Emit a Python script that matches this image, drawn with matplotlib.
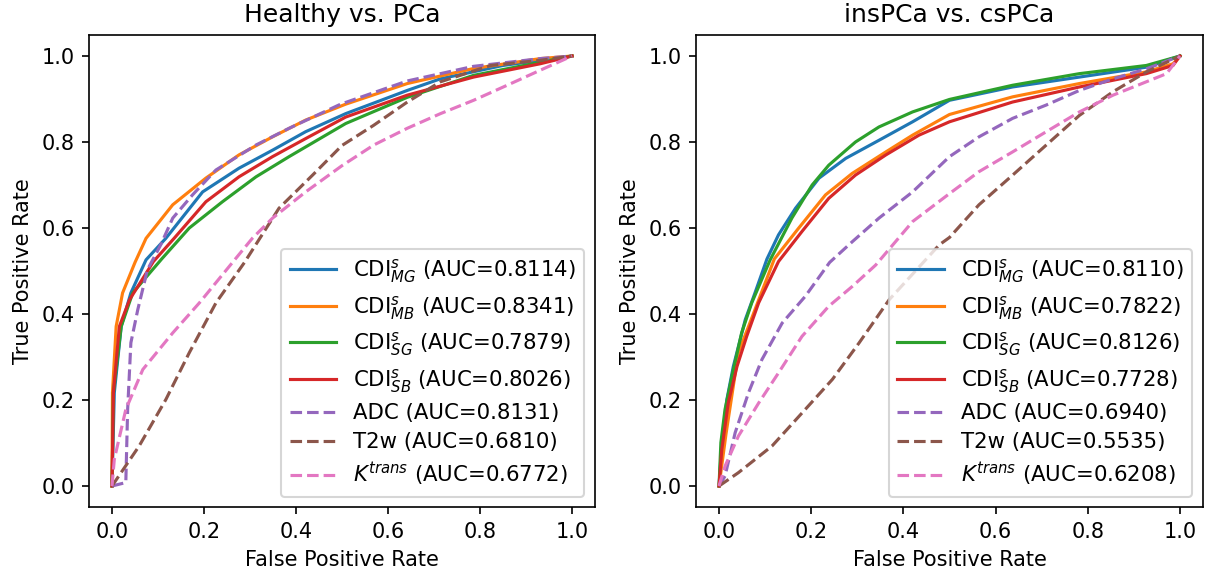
import numpy as np
import matplotlib
matplotlib.use('Agg')
import matplotlib.pyplot as plt

# ---- Healthy vs. PCa ----
h_mg_fpr = [0, 0.005, 0.020, 0.041, 0.074, 0.117, 0.197, 0.276, 0.349, 0.421, 0.508, 0.642, 0.714, 0.850, 1.0]
h_mg_tpr = [0, 0.217, 0.371, 0.449, 0.526, 0.576, 0.684, 0.739, 0.781, 0.824, 0.866, 0.920, 0.947, 0.978, 1.0]
h_mb_fpr = [0, 0.001, 0.009, 0.023, 0.050, 0.074, 0.132, 0.204, 0.276, 0.349, 0.421, 0.508, 0.642, 0.786, 0.931, 1.0]
h_mb_tpr = [0, 0.217, 0.371, 0.449, 0.520, 0.576, 0.654, 0.716, 0.770, 0.812, 0.851, 0.888, 0.936, 0.971, 0.994, 1.0]
h_sg_fpr = [0, 0.003, 0.020, 0.045, 0.108, 0.168, 0.240, 0.313, 0.385, 0.508, 0.642, 0.786, 1.0]
h_sg_tpr = [0, 0.217, 0.371, 0.449, 0.528, 0.600, 0.661, 0.719, 0.766, 0.843, 0.904, 0.955, 1.0]
h_sb_fpr = [0, 0.003, 0.016, 0.038, 0.090, 0.135, 0.204, 0.276, 0.349, 0.421, 0.508, 0.642, 0.786, 0.931, 1.0]
h_sb_tpr = [0, 0.217, 0.371, 0.433, 0.522, 0.576, 0.661, 0.719, 0.766, 0.808, 0.858, 0.909, 0.951, 0.982, 1.0]
h_adc_fpr = [0, 0.030, 0.034, 0.041, 0.056, 0.077, 0.106, 0.132, 0.175, 0.226, 0.313, 0.385, 0.497, 0.642, 0.786, 0.931, 1.0]
h_adc_tpr = [0, 0.008, 0.178, 0.333, 0.410, 0.503, 0.561, 0.623, 0.677, 0.735, 0.793, 0.832, 0.888, 0.942, 0.976, 0.994, 1.0]
h_t2w_fpr = [0, 0.059, 0.117, 0.168, 0.226, 0.288, 0.363, 0.436, 0.500, 0.569, 0.642, 0.714, 0.823, 0.931, 1.0]
h_t2w_tpr = [0, 0.093, 0.201, 0.310, 0.426, 0.520, 0.646, 0.723, 0.792, 0.839, 0.893, 0.940, 0.978, 0.990, 1.0]
h_kt_fpr = [0, 0.005, 0.030, 0.067, 0.132, 0.190, 0.262, 0.305, 0.349, 0.421, 0.500, 0.569, 0.642, 0.714, 0.786, 0.859, 0.931, 1.0]
h_kt_tpr = [0, 0.062, 0.178, 0.271, 0.356, 0.426, 0.520, 0.576, 0.623, 0.684, 0.745, 0.793, 0.832, 0.866, 0.897, 0.932, 0.967, 1.0]

# ---- insPCa vs. csPCa ----
c_mg_fpr = [0, 0.006, 0.017, 0.031, 0.057, 0.078, 0.104, 0.129, 0.166, 0.217, 0.275, 0.347, 0.420, 0.500, 0.637, 0.782, 0.927, 1.0]
c_mg_tpr = [0, 0.101, 0.201, 0.278, 0.387, 0.449, 0.528, 0.584, 0.646, 0.716, 0.762, 0.804, 0.847, 0.897, 0.928, 0.951, 0.974, 1.0]
c_mb_fpr = [0, 0.015, 0.042, 0.064, 0.120, 0.173, 0.231, 0.289, 0.362, 0.420, 0.500, 0.637, 0.782, 0.927, 0.985, 1.0]
c_mb_tpr = [0, 0.120, 0.310, 0.371, 0.528, 0.600, 0.677, 0.727, 0.777, 0.816, 0.864, 0.905, 0.936, 0.963, 0.982, 1.0]
c_sg_fpr = [0, 0.004, 0.013, 0.028, 0.049, 0.071, 0.111, 0.158, 0.202, 0.238, 0.296, 0.347, 0.420, 0.500, 0.637, 0.782, 0.927, 1.0]
c_sg_tpr = [0, 0.101, 0.178, 0.255, 0.356, 0.426, 0.526, 0.623, 0.700, 0.746, 0.800, 0.835, 0.870, 0.899, 0.932, 0.959, 0.978, 1.0]
c_sb_fpr = [0, 0.006, 0.020, 0.039, 0.060, 0.086, 0.129, 0.180, 0.238, 0.296, 0.362, 0.434, 0.500, 0.637, 0.782, 0.927, 0.985, 1.0]
c_sb_tpr = [0, 0.085, 0.193, 0.278, 0.348, 0.426, 0.522, 0.592, 0.669, 0.723, 0.770, 0.816, 0.847, 0.893, 0.928, 0.959, 0.978, 1.0]
c_adc_fpr = [0, 0.013, 0.035, 0.064, 0.093, 0.137, 0.187, 0.240, 0.289, 0.347, 0.420, 0.500, 0.564, 0.637, 0.710, 0.782, 0.855, 0.927, 1.0]
c_adc_tpr = [0, 0.023, 0.124, 0.217, 0.294, 0.379, 0.441, 0.520, 0.568, 0.623, 0.684, 0.766, 0.812, 0.855, 0.886, 0.920, 0.947, 0.970, 1.0]
c_t2w_fpr = [0, 0.042, 0.115, 0.187, 0.246, 0.304, 0.369, 0.478, 0.500, 0.564, 0.637, 0.710, 0.782, 0.855, 0.927, 1.0]
c_t2w_tpr = [0, 0.031, 0.093, 0.178, 0.248, 0.333, 0.433, 0.561, 0.578, 0.654, 0.723, 0.793, 0.862, 0.917, 0.963, 1.0]
c_kt_fpr = [0, 0.013, 0.042, 0.086, 0.129, 0.180, 0.238, 0.289, 0.340, 0.420, 0.500, 0.564, 0.637, 0.710, 0.782, 0.855, 0.927, 0.971, 1.0]
c_kt_tpr = [0, 0.046, 0.116, 0.193, 0.263, 0.348, 0.418, 0.464, 0.514, 0.615, 0.680, 0.731, 0.777, 0.824, 0.870, 0.909, 0.940, 0.959, 1.0]

names = [r'CDI$^{s}_{MG}$', r'CDI$^{s}_{MB}$', r'CDI$^{s}_{SG}$', r'CDI$^{s}_{SB}$',
         'ADC', 'T2w', r'$K^{trans}$']
styles = ['-', '-', '-', '-', '--', '--', '--']
colors = ['tab:blue', 'tab:orange', 'tab:green', 'tab:red', 'tab:purple', 'tab:brown', 'tab:pink']

healthy_auc = [0.8114, 0.8341, 0.7879, 0.8026, 0.8131, 0.6810, 0.6772]
cs_auc = [0.8110, 0.7822, 0.8126, 0.7728, 0.6940, 0.5535, 0.6208]

healthy = [(h_mg_fpr, h_mg_tpr), (h_mb_fpr, h_mb_tpr), (h_sg_fpr, h_sg_tpr), (h_sb_fpr, h_sb_tpr),
           (h_adc_fpr, h_adc_tpr), (h_t2w_fpr, h_t2w_tpr), (h_kt_fpr, h_kt_tpr)]
cs = [(c_mg_fpr, c_mg_tpr), (c_mb_fpr, c_mb_tpr), (c_sg_fpr, c_sg_tpr), (c_sb_fpr, c_sb_tpr),
      (c_adc_fpr, c_adc_tpr), (c_t2w_fpr, c_t2w_tpr), (c_kt_fpr, c_kt_tpr)]


def panel(ax, curves, aucs, title):
    for (f, t), n, ls, c, a in zip(curves, names, styles, colors, aucs):
        ax.plot(f, t, ls, color=c, lw=1.5, label='{} (AUC={:.4f})'.format(n, a))
    ax.set_title(title, fontsize=12)
    ax.set_xlabel('False Positive Rate')
    ax.set_ylabel('True Positive Rate')
    ax.legend(loc='lower right', fontsize=10.2, handlelength=2.2, labelspacing=0.4)


fig = plt.figure(figsize=(8.04, 3.8667), dpi=150)
ax1 = fig.add_axes([0.0738, 0.125, 0.4196, 0.8155])
ax2 = fig.add_axes([0.5771, 0.125, 0.4204, 0.8155])
panel(ax1, healthy, healthy_auc, 'Healthy vs. PCa')
panel(ax2, cs, cs_auc, 'insPCa vs. csPCa')
fig.savefig('out.png', dpi=150)
